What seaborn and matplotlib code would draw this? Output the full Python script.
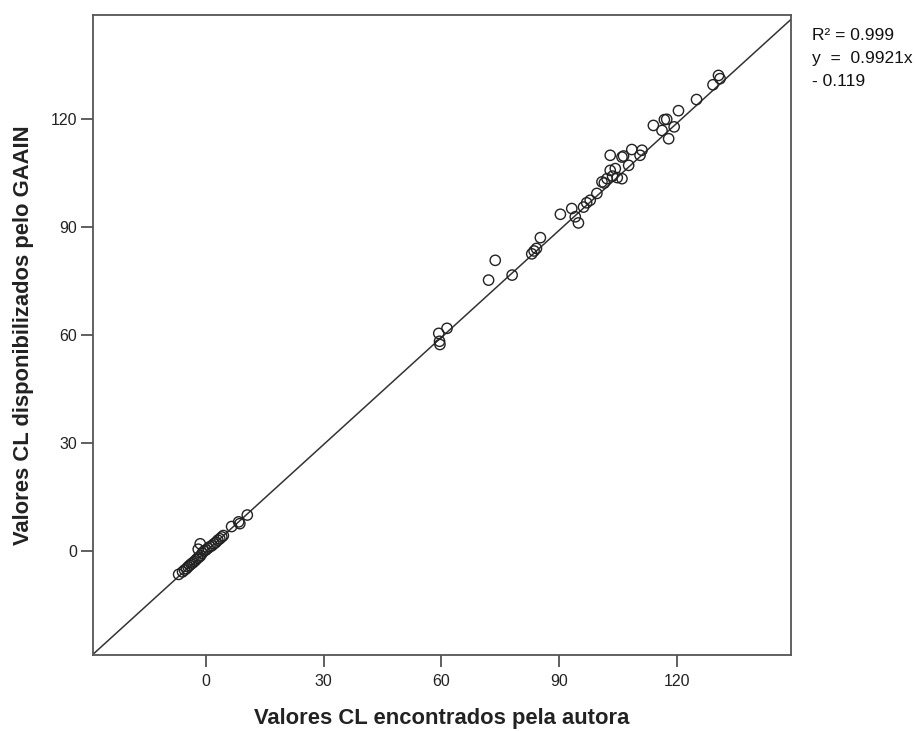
import numpy as np
import pandas as pd
import matplotlib
matplotlib.use("Agg")
import matplotlib.pyplot as plt
import seaborn as sns

# CL values computed by the author (x) vs values published by GAAIN (y)
autora = [-7.0, -6.0, -5.5, -5.0, -4.6, -4.2, -3.8, -3.4, -3.0, -2.6, -2.2, -1.8,
          -1.4, -1.0, -2.0, -1.5, -0.5, 0.0, 0.5, 1.0, 1.5, 2.0, 2.5, 3.0, 3.5,
          4.0, 4.4, 6.5, 8.3, 8.6, 10.5,
          59.3, 59.5, 59.6, 61.4, 72.0, 73.7, 78.0, 83.0, 83.6, 84.2, 85.2,
          90.3, 93.2, 94.1, 94.9, 96.2, 97.0, 97.9, 99.6, 100.9, 101.5, 102.2,
          103.0, 103.6, 104.3, 104.8, 106.0, 106.0, 106.4, 103.0, 107.7, 108.5,
          110.6, 111.1, 114.0, 116.2, 116.8, 117.9, 119.3, 117.4, 120.4, 125.0,
          129.2, 130.6, 131.0]
gaain = [-6.5, -5.8, -5.3, -4.9, -4.4, -4.0, -3.6, -3.3, -2.9, -2.5, -2.0, -1.7,
         -1.3, -0.6, 0.5, 2.0, 0.0, 0.3, 0.8, 1.2, 1.5, 2.0, 2.4, 3.0, 3.4,
         3.9, 4.3, 6.8, 8.1, 7.6, 10.0,
         60.5, 58.3, 57.4, 61.9, 75.3, 80.8, 76.7, 82.6, 83.4, 84.1, 87.1,
         93.6, 95.2, 92.9, 91.2, 95.6, 96.8, 97.5, 99.4, 102.6, 102.3, 103.5,
         105.8, 104.2, 106.3, 103.8, 103.5, 109.5, 109.8, 110.0, 107.2, 111.6,
         110.0, 111.4, 118.3, 116.9, 119.9, 114.6, 117.9, 120.0, 122.4, 125.5,
         129.6, 132.2, 131.3]

slope = 0.9921
intercept = -0.119
r2 = 0.999

x_ticks = [0, 30, 60, 90, 120]
y_ticks = [0, 30, 60, 90, 120]
lim = (-28.9, 149.0)

df = pd.DataFrame({"autora": autora, "gaain": gaain})

sns.set_style("white")
plt.rcParams["font.family"] = ["Liberation Sans", "DejaVu Sans"]

fig = plt.figure(figsize=(9.16, 7.31), dpi=100)
ax = fig.add_axes([0.1012, 0.104, 0.762, 0.8755])

xs = np.array(lim)
ax.plot(xs, slope * xs + intercept, color="#333333", lw=1.1, zorder=1)

sns.scatterplot(data=df, x="autora", y="gaain", ax=ax, s=55,
                facecolor="none", edgecolor="#222222", linewidth=1.0,
                marker="o", zorder=2)

ax.set_xlim(*lim)
ax.set_ylim(*lim)
ax.set_xticks(x_ticks)
ax.set_yticks(y_ticks)
ax.set_xticklabels([str(t) for t in x_ticks])
ax.set_yticklabels([str(t) for t in y_ticks])
ax.tick_params(axis="both", which="both", direction="out", length=8.6,
               width=1.2, color="#444444", labelsize=11.5, labelcolor="#222222",
               bottom=True, left=True, top=False, right=False)
ax.tick_params(axis="x", pad=5)
ax.tick_params(axis="y", pad=2.5)
for sp in ax.spines.values():
    sp.set_color("#555555")
    sp.set_linewidth(1.3)

ax.set_xlabel("Valores CL encontrados pela autora", fontsize=15.8,
              fontweight="bold", labelpad=14, color="#222222")
ax.set_ylabel("Valores CL disponibilizados pelo GAAIN", fontsize=15.8,
              fontweight="bold", labelpad=12, color="#222222")

fig.text(812 / 916, 1 - 35 / 731, f"R² = {r2}", fontsize=12.5, va="center",
         ha="left", color="#111111")
fig.text(812 / 916, 1 - 58 / 731, f"y  =  {slope}x", fontsize=12.5, va="center",
         ha="left", color="#111111")
fig.text(812 / 916, 1 - 81 / 731, f"- {abs(intercept)}", fontsize=12.5,
         va="center", ha="left", color="#111111")

fig.savefig("out.png", dpi=100)
